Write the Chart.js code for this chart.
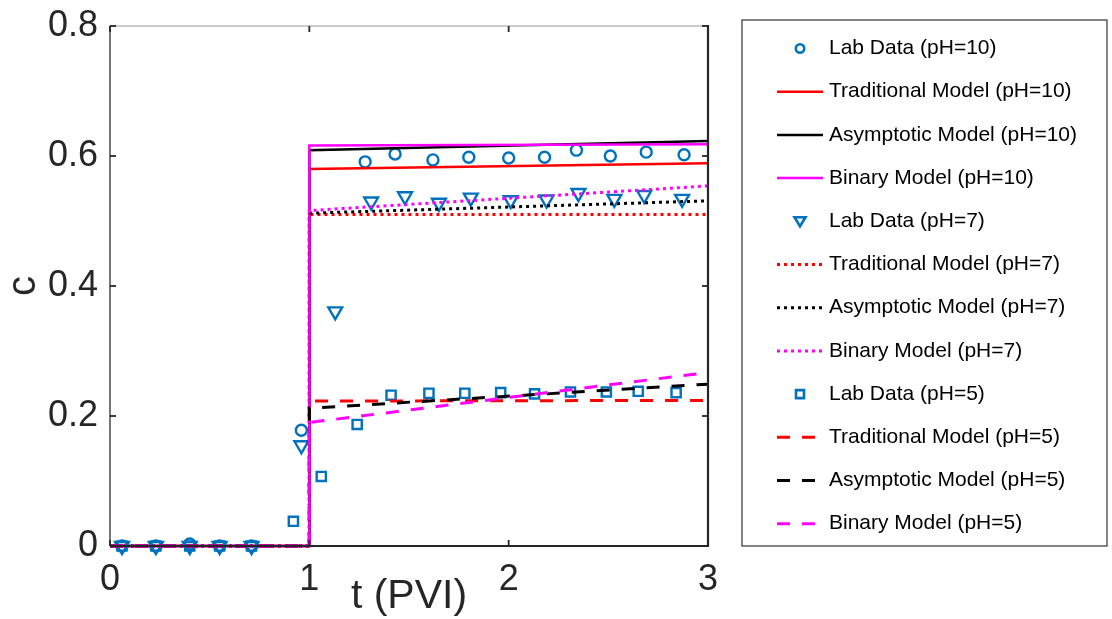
<!DOCTYPE html>
<html lang="en">
<head>
<meta charset="UTF-8">
<title>c vs t (PVI)</title>
<script src="https://cdn.jsdelivr.net/npm/chart.js"></script>
<style>
    body { margin: 0; background: #fff; }
    .wrap { width: 1112px; height: 619px; position: relative; }
</style>
</head>
<body>
<div class="wrap"><canvas id="chart"></canvas></div>
<script>
// axis ticks
const xTicks = [0, 1, 2, 3];
const yTicks = [0, 0.2, 0.4, 0.6, 0.8];

// lab data
const labT10 = [0.06, 0.23, 0.40, 0.55, 0.71, 0.96, 1.28, 1.43, 1.62, 1.80, 2.00, 2.18, 2.34, 2.51, 2.69, 2.88];
const labC10 = [0, 0, 0.003, 0, 0, 0.178, 0.591, 0.603, 0.594, 0.598, 0.597, 0.598, 0.609, 0.600, 0.606, 0.602];
const labT7 = [0.06, 0.23, 0.40, 0.55, 0.71, 0.96, 1.13, 1.31, 1.48, 1.65, 1.81, 2.01, 2.19, 2.35, 2.53, 2.68, 2.87];
const labC7 = [0, 0, 0, 0, 0, 0.155, 0.361, 0.530, 0.538, 0.528, 0.536, 0.532, 0.533, 0.543, 0.534, 0.540, 0.534];
const labT5 = [0.06, 0.23, 0.40, 0.55, 0.71, 0.92, 1.06, 1.24, 1.41, 1.60, 1.78, 1.96, 2.13, 2.31, 2.49, 2.65, 2.84];
const labC5 = [0, 0, 0, 0, 0, 0.038, 0.107, 0.187, 0.232, 0.235, 0.235, 0.236, 0.234, 0.237, 0.237, 0.238, 0.236];

// model curves (step at t = 1)
const modelT = [0, 1, 1, 3];
const trad10 = [0, 0, 0.580, 0.589];
const asym10 = [0, 0, 0.609, 0.623];
const bin10  = [0, 0, 0.616, 0.618];
const trad7  = [0, 0, 0.510, 0.510];
const asym7  = [0, 0, 0.512, 0.531];
const bin7   = [0, 0, 0.516, 0.554];
const trad5  = [0, 0, 0.223, 0.224];
const asym5  = [0, 0, 0.212, 0.249];
const bin5   = [0, 0, 0.190, 0.267];

const BLUE = '#0072BD', RED = '#FF0000', BLACK = '#000000', MAG = '#FF00FF';
const DOT = [3, 4], DASH = [13, 12];
const FONT = "'Liberation Sans', Arial, sans-serif";

function pts(t, c) { return t.map((v, i) => ({ x: v, y: c[i] })); }

function lab(label, t, c, style, r, rot) {
    return {
        label, data: pts(t, c), showLine: false,
        pointStyle: style, pointRadius: r, pointRotation: rot || 0,
        borderColor: BLUE, backgroundColor: 'rgba(0,0,0,0)', pointBorderWidth: 2.4,
        clip: false
    };
}
function model(label, c, color, dash) {
    return {
        label, data: pts(modelT, c), showLine: true, pointRadius: 0,
        borderColor: color, backgroundColor: color, borderWidth: dash.length ? 3 : 2.5,
        borderDash: dash, tension: 0, clip: false
    };
}

const datasets = [
    lab('Lab Data (pH=10)', labT10, labC10, 'circle', 5.5),
    model('Traditional Model (pH=10)', trad10, RED, []),
    model('Asymptotic Model (pH=10)', asym10, BLACK, []),
    model('Binary Model (pH=10)', bin10, MAG, []),
    lab('Lab Data (pH=7)', labT7, labC7, 'triangle', 8, 180),
    model('Traditional Model (pH=7)', trad7, RED, DOT),
    model('Asymptotic Model (pH=7)', asym7, BLACK, DOT),
    model('Binary Model (pH=7)', bin7, MAG, DOT),
    lab('Lab Data (pH=5)', labT5, labC5, 'rect', 6.5),
    model('Traditional Model (pH=5)', trad5, RED, DASH),
    model('Asymptotic Model (pH=5)', asym5, BLACK, DASH),
    model('Binary Model (pH=5)', bin5, MAG, DASH)
];
// later series on top, like the original
datasets.forEach((d, i) => { d.order = datasets.length - i; });

// box + inward ticks
const frame = {
    id: 'frame',
    afterDatasetsDraw(chart) {
        const { ctx, chartArea: a, scales: { x, y } } = chart;
        ctx.save();
        ctx.lineCap = 'butt';
        const seg = (x1, y1, x2, y2, col, w) => {
            ctx.strokeStyle = col; ctx.lineWidth = w;
            ctx.beginPath(); ctx.moveTo(x1, y1); ctx.lineTo(x2, y2); ctx.stroke();
        };
        seg(a.left, a.top, a.right, a.top, '#9a9a9a', 1.2);
        seg(a.left, a.top, a.left, a.bottom, '#555', 1.6);
        seg(a.right, a.top - 1, a.right, a.bottom + 1, '#262626', 2.2);
        seg(a.left, a.bottom, a.right, a.bottom, '#262626', 2.2);
        yTicks.forEach(v => {
            const py = y.getPixelForValue(v);
            seg(a.left, py, a.left + 6, py, '#262626', 1.8);
            seg(a.right, py, a.right - 6, py, '#262626', 1.8);
        });
        xTicks.forEach(v => {
            const px = x.getPixelForValue(v);
            seg(px, a.bottom, px, a.bottom - 6, '#262626', 1.8);
            seg(px, a.top, px, a.top + 6, '#262626', 1.8);
        });
        ctx.restore();
    }
};

// legend box on the right
const legendBox = {
    id: 'legendBox',
    afterDraw(chart) {
        const ctx = chart.ctx;
        const bx = 742, by = 20, bw = 365, bh = 526;
        ctx.save();
        ctx.fillStyle = '#fff';
        ctx.fillRect(bx, by, bw, bh);
        ctx.strokeStyle = '#333'; ctx.lineWidth = 1.2;
        ctx.strokeRect(bx, by, bw, bh);
        chart.data.datasets.forEach((d, i) => {
            const cy = 48.5 + i * 43.2;
            const x0 = 777, x1 = 823, cx = 800;
            ctx.strokeStyle = d.borderColor;
            if (d.showLine) {
                ctx.lineWidth = d.borderWidth;
                ctx.setLineDash(d.borderDash);
                ctx.beginPath(); ctx.moveTo(x0, cy); ctx.lineTo(x1, cy); ctx.stroke();
                ctx.setLineDash([]);
            } else {
                ctx.lineWidth = 2.6;
                ctx.beginPath();
                if (d.pointStyle === 'circle') {
                    ctx.arc(cx, cy, 4.2, 0, Math.PI * 2);
                } else if (d.pointStyle === 'triangle') {
                    ctx.moveTo(cx - 5.5, cy - 4); ctx.lineTo(cx + 5.5, cy - 4); ctx.lineTo(cx, cy + 5); ctx.closePath();
                } else {
                    ctx.rect(cx - 4, cy - 4, 8, 8);
                }
                ctx.stroke();
            }
            ctx.fillStyle = '#000';
            ctx.font = '21px ' + FONT;
            ctx.textBaseline = 'middle';
            ctx.textAlign = 'left';
            ctx.fillText(d.label, 829, cy);
        });
        ctx.restore();
    }
};

new Chart(document.getElementById('chart'), {
    type: 'scatter',
    data: { datasets },
    options: {
        responsive: true,
        maintainAspectRatio: false,
        animation: false,
        layout: { padding: { left: 0, top: 26, right: 404, bottom: 0 } },
        plugins: { legend: { display: false }, tooltip: { enabled: false } },
        scales: {
            x: {
                type: 'linear', min: 0, max: 3,
                afterBuildTicks: s => { s.ticks = xTicks.map(v => ({ value: v })); },
                afterFit: s => { s.height = 73; s.paddingLeft = 0; s.paddingRight = 0; },
                grid: { display: false, drawTicks: false },
                border: { display: false },
                ticks: { color: '#262626', padding: 12, font: { family: FONT, size: 36 } },
                title: { display: true, text: 't (PVI)', color: '#262626', padding: 0,
                         font: { family: FONT, size: 41, lineHeight: 1.1 } }
            },
            y: {
                type: 'linear', min: 0, max: 0.8,
                afterBuildTicks: s => { s.ticks = yTicks.map(v => ({ value: v })); },
                afterFit: s => { s.width = 110; s.paddingTop = 0; s.paddingBottom = 0; },
                grid: { display: false, drawTicks: false },
                border: { display: false },
                ticks: { color: '#262626', padding: 12, font: { family: FONT, size: 36 },
                         callback: v => String(v) },
                title: { display: true, text: 'c', color: '#262626', padding: 0,
                         font: { family: FONT, size: 40, lineHeight: 1.2 } }
            }
        }
    },
    plugins: [frame, legendBox]
});
</script>
</body>
</html>
